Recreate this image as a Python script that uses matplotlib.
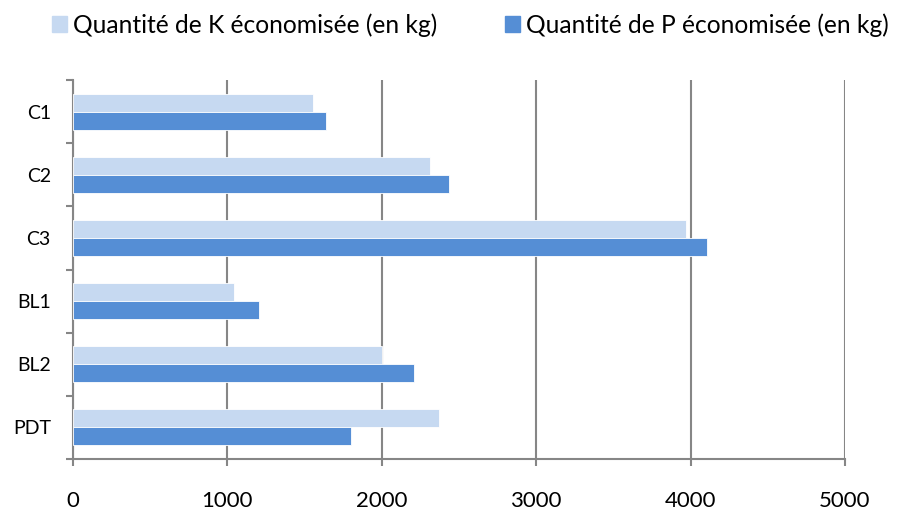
import matplotlib
matplotlib.use("Agg")
import matplotlib.pyplot as plt
import numpy as np
from matplotlib.patches import Patch

plt.rcParams['font.family'] = ['Lato', 'DejaVu Sans']

categories = ["C1", "C2", "C3", "BL1", "BL2", "PDT"]
k_saved = [1556, 2309, 3967, 1044, 2002, 2370]
p_saved = [1637, 2436, 4107, 1204, 2209, 1801]
x_ticks = [0, 1000, 2000, 3000, 4000, 5000]

light = "#C6D9F1"
dark = "#558ED5"
grid_col = "#868686"

fig = plt.figure(figsize=(8.99, 5.12), dpi=100)
ax = fig.add_axes([73 / 899, 1 - 459 / 512, (845 - 73) / 899, (459 - 80) / 512])

y = np.arange(len(categories))
h = 0.285
ax.barh(y - h / 2, k_saved, height=h, color=light, edgecolor="white", linewidth=0.6, zorder=3)
ax.barh(y + h / 2, p_saved, height=h, color=dark, edgecolor="white", linewidth=0.6, zorder=3)

ax.set_ylim(len(categories) - 0.5, -0.5)
ax.set_xlim(0, 5000)
ax.set_xticks(x_ticks)
ax.set_xticklabels([str(t) for t in x_ticks], fontsize=16)
ax.set_yticks(y)
ax.set_yticklabels(categories, fontsize=14)
ax.tick_params(axis="y", length=0, pad=16)
ax.set_yticks(np.arange(len(categories) + 1) - 0.5, minor=True)
ax.tick_params(axis="y", which="minor", length=5, color=grid_col, width=1.5)
ax.tick_params(axis="x", length=5, color=grid_col, width=1.5, pad=18)

ax.grid(axis="x", color=grid_col, linewidth=1.5, zorder=0)
for s in ["top", "right"]:
    ax.spines[s].set_visible(False)
for s in ["left", "bottom"]:
    ax.spines[s].set_color(grid_col)
    ax.spines[s].set_linewidth(1.5)

handles = [Patch(color=light, label="Quantité de K économisée (en kg)"),
           Patch(color=dark, label="Quantité de P économisée (en kg)")]
fig.legend(handles=handles, loc="upper center", bbox_to_anchor=(0.523, 1.013), ncol=2,
           frameon=False, fontsize=17.7, handlelength=0.6, handleheight=0.6,
           handletextpad=0.25, columnspacing=2.76, borderpad=0.3)

fig.savefig("out.png", dpi=100)
